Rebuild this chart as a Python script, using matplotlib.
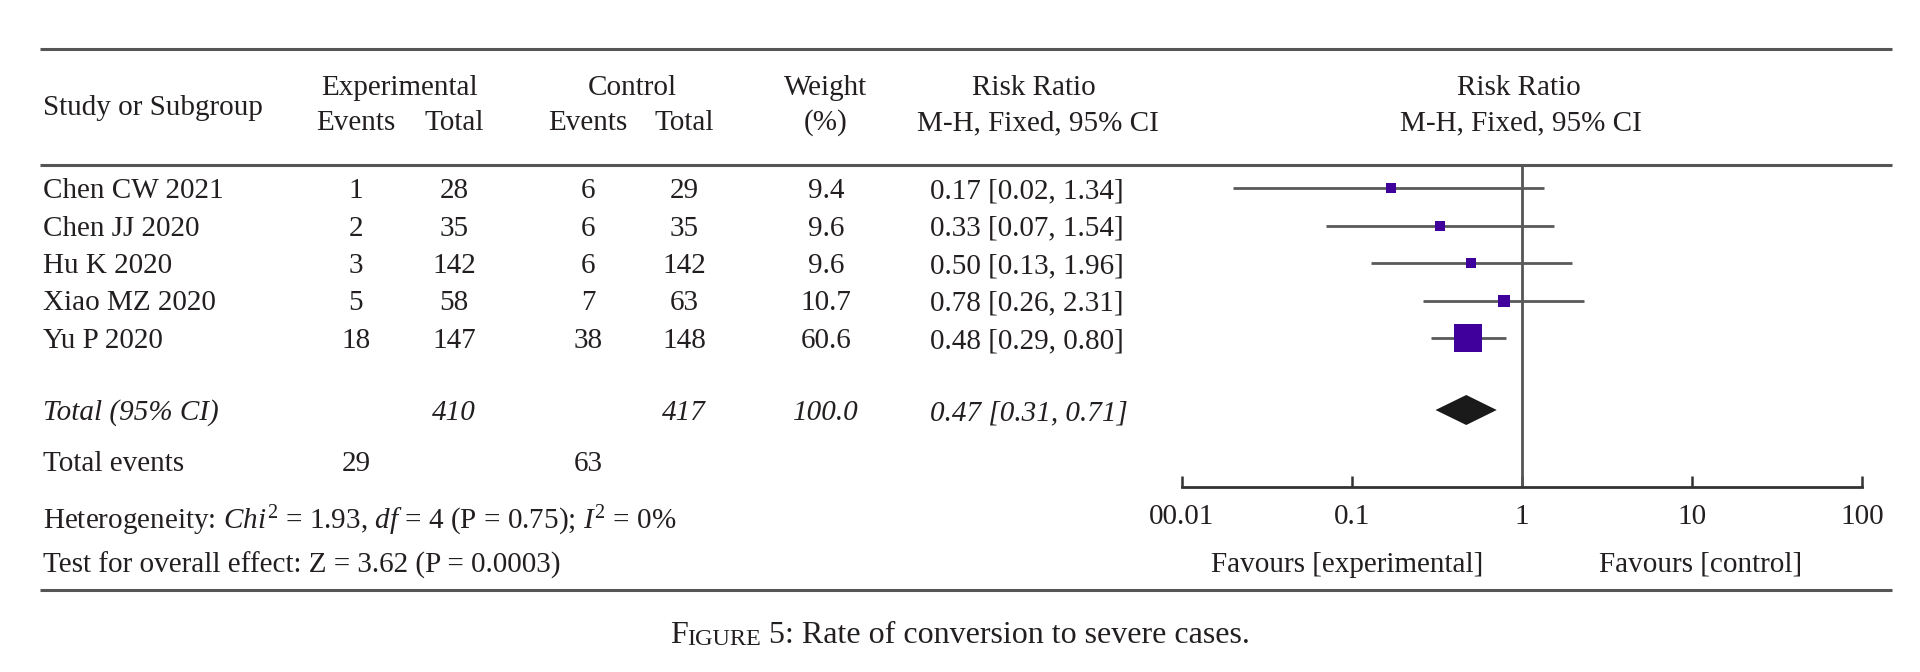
import numpy as np
import matplotlib
matplotlib.use("Agg")
from matplotlib import pyplot as plt

plt.rcParams['font.family'] = ['Liberation Serif', 'DejaVu Serif']
plt.rcParams['mathtext.fontset'] = 'custom'
plt.rcParams['mathtext.rm'] = 'Liberation Serif'
plt.rcParams['mathtext.it'] = 'Liberation Serif:italic'

# data
studies = ["Chen CW 2021", "Chen JJ 2020", "Hu K 2020", "Xiao MZ 2020", "Yu P 2020"]
exp_events = [1, 2, 3, 5, 18]
exp_total = [28, 35, 142, 58, 147]
ctrl_events = [6, 6, 6, 7, 38]
ctrl_total = [29, 35, 142, 63, 148]
weights = [9.4, 9.6, 9.6, 10.7, 60.6]
rr = [0.17, 0.33, 0.50, 0.78, 0.48]
ci_low = [0.02, 0.07, 0.13, 0.26, 0.29]
ci_high = [1.34, 1.54, 1.96, 2.31, 0.80]

total_exp, total_ctrl, total_weight = 410, 417, 100.0
total_rr, total_lo, total_hi = 0.47, 0.31, 0.71
events_exp, events_ctrl = 29, 63

tick_vals = [0.01, 0.1, 1, 10, 100]
tick_labels = ["00.01", "0.1", "1", "10", "100"]

txt = '#231f20'
rule = '#555555'
fs = 21

fig = plt.figure(figsize=(19.2, 6.72), dpi=100)
ax0 = fig.add_axes([0, 0, 1, 1])
ax0.set_xlim(0, 1920)
ax0.set_ylim(672, 0)
ax0.axis('off')


def put(x, y, s, ha='left', **kw):
    ax0.text(x, y + 3, s, fontsize=kw.pop('size', fs), color=txt, va='center', ha=ha, **kw)


# rules
for yy in [49, 165, 590]:
    ax0.plot([40, 1892], [yy, yy], color=rule, lw=2.2, solid_capstyle='butt')

# header
put(43, 105, "Study or Subgroup")
put(399, 85, "Experimental", 'center')
put(356, 120, "Events", 'center')
put(454, 120, "Total", 'center')
put(632, 85, "Control", 'center')
put(588, 120, "Events", 'center')
put(684, 120, "Total", 'center')
put(826, 85, "Weight", 'center')
put(826, 120, "(%)", 'center')
put(1034, 85, "Risk Ratio", 'center')
put(1038, 120, "M-H, Fixed, 95% CI", 'center')
put(1519, 85, "Risk Ratio", 'center')
put(1521, 120, "M-H, Fixed, 95% CI", 'center')

row_y = [188 + 37.5 * i for i in range(len(studies))]
total_y = 410

for i, y in enumerate(row_y):
    put(43, y, studies[i])
    put(356, y, str(exp_events[i]), 'center')
    put(454, y, str(exp_total[i]), 'center')
    put(588, y, str(ctrl_events[i]), 'center')
    put(684, y, str(ctrl_total[i]), 'center')
    put(826, y, "%.1f" % weights[i], 'center')
    put(930, y, "%.2f [%.2f, %.2f]" % (rr[i], ci_low[i], ci_high[i]))

put(43, total_y, "Total (95% CI)", style='italic')
put(454, total_y, str(total_exp), 'center', style='italic')
put(684, total_y, str(total_ctrl), 'center', style='italic')
put(826, total_y, "%.1f" % total_weight, 'center', style='italic')
put(930, total_y, "%.2f [%.2f, %.2f]" % (total_rr, total_lo, total_hi), style='italic')

put(43, 461, "Total events")
put(356, 461, str(events_exp), 'center')
put(588, 461, str(events_ctrl), 'center')

put(43, 518, r"Heterogeneity: $\mathit{Chi}^2$ = 1.93, $\mathit{df}$ = 4 (P = 0.75); $\mathit{I}^2$ = 0%")
put(43, 562, "Test for overall effect: Z = 3.62 (P = 0.0003)")

put(1347, 562, "Favours [experimental]", 'center')
put(1701, 562, "Favours [control]", 'center')

# caption with small caps, centred on the page
c1 = ax0.text(0, 650, "F", fontsize=23, color=txt, va='bottom')
c2 = ax0.annotate("IGURE", xy=(1, 0), xycoords=c1, fontsize=17.5, color=txt, va='bottom')
c3 = ax0.annotate(" 5: Rate of conversion to severe cases.", xy=(1, 0), xycoords=c2,
                  fontsize=23, color=txt, va='bottom')
fig.canvas.draw()
r = fig.canvas.get_renderer()
x_left = c1.get_window_extent(r).x0
x_right = c3.get_window_extent(r).x1
c1.set_x(960 - (x_right - x_left) / 2)

# forest panel
ax = fig.add_axes([1182 / 1920, 1 - 487 / 672, 680 / 1920, (487 - 165) / 672])
ax.set_xscale('log')
ax.set_xlim(0.01, 100)
ax.set_ylim(487, 165)
ax.patch.set_alpha(0)
for s in ['top', 'left', 'right']:
    ax.spines[s].set_visible(False)
ax.spines['bottom'].set_color('#333333')
ax.spines['bottom'].set_linewidth(2)
ax.set_yticks([])
ax.set_xticks(tick_vals)
ax.set_xticklabels(tick_labels)
ax.minorticks_off()
ax.tick_params(axis='x', direction='in', length=8, width=1.8, color='#333333',
               labelsize=fs, labelcolor=txt, pad=12)

ax.axvline(1, color=rule, lw=2)

for i, y in enumerate(row_y):
    ax.plot([ci_low[i], ci_high[i]], [y, y], color='#5a5a5a', lw=2, solid_capstyle='butt')
    ax.plot(rr[i], y, marker='s', ms=2.5 * np.sqrt(weights[i]), color='#40009c', mew=0)

ax.fill([total_lo, total_rr, total_hi, total_rr],
        [total_y, total_y - 15, total_y, total_y + 15], color='#1a1a1a', lw=0)

fig.savefig("out.png", dpi=100)
